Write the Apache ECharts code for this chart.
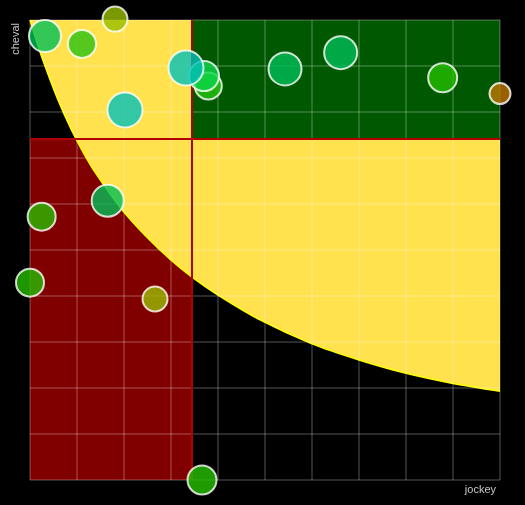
<!DOCTYPE html>
<html>
<head>
<meta charset="utf-8">
<script src="https://cdn.jsdelivr.net/npm/echarts@6/dist/echarts.min.js"></script>
<style>html,body{margin:0;padding:0;background:#000;}#c{width:525px;height:505px;}</style>
</head>
<body>
<div id="c"></div>
<script>
// Threshold curve (frontier)
const curveX = [0, 1.5, 3.19, 5.96, 8.72, 11.28, 14.04, 19.15, 24.47, 29.79, 34.47, 40, 48.94, 60, 70, 80, 90, 100];
const curveY = [100, 95, 90, 82.6, 76.3, 71.3, 66.6, 59.3, 53.2, 48.0, 44.1, 40.2, 34.8, 29.6, 26.1, 23.2, 21, 19.3];

// Thresholds
const thresholdX = 34.5;
const thresholdY = 74.1;

// Bubbles (jockey, cheval, weight)
const pointX = [37.94, 37.02, 33.19, 3.19, 11.06, 18.09, 20.21, 54.26, 66.1, 87.8, 100, 16.53, 2.48, 0, 26.6, 36.6];
const pointY = [85.65, 87.8, 89.57, 96.5, 94.8, 100.2, 80.43, 89.35, 92.9, 87.46, 84.0, 60.72, 57.25, 42.9, 39.35, 0];
const pointW = [27, 30, 35, 32, 28, 25, 35, 33, 33, 29, 21, 32, 28, 28, 25, 29];
const pointColors = [
  'rgb(37,197,12)', 'rgb(12,215,75)', 'rgb(0,192,185)', 'rgb(0,191,87)',
  'rgb(42,194,19)', 'rgb(153,190,0)', 'rgb(0,192,185)', 'rgb(0,190,87)',
  'rgb(0,190,87)', 'rgb(37,190,0)', 'rgb(190,120,0)', 'rgb(0,191,87)',
  'rgb(42,187,0)', 'rgb(37,187,0)', 'rgb(155,187,0)', 'rgb(37,194,0)'
];

const chart = echarts.init(document.getElementById('c'));
const curveData = curveX.map((x, i) => [x, curveY[i]]);
const points = pointX.map((x, i) => ({
  value: [x, pointY[i], pointW[i]],
  itemStyle: { color: pointColors[i] }
}));

const axisCommon = {
  type: 'value', min: 0, max: 100, interval: 10, z: 4,
  axisLine: { show: false }, axisTick: { show: false }, axisLabel: { show: false },
  splitLine: { show: true, lineStyle: { color: 'rgba(255,255,255,0.22)', width: 1.5 } },
  nameTextStyle: { color: '#c8c8c8', fontSize: 11, fontFamily: 'Liberation Sans, Arial, sans-serif' }
};

chart.setOption({
  backgroundColor: '#000',
  animation: false,
  grid: { left: 30, right: 25, top: 20, bottom: 25 },
  xAxis: Object.assign({}, axisCommon, {
    name: 'jockey', nameLocation: 'end', nameGap: -4,
    nameTextStyle: Object.assign({}, axisCommon.nameTextStyle, { align: 'right', verticalAlign: 'top', padding: [4, 0, 0, 0] })
  }),
  yAxis: Object.assign({}, axisCommon, {
    name: 'cheval', nameLocation: 'end', nameGap: -3, nameRotate: 90,
    nameTextStyle: Object.assign({}, axisCommon.nameTextStyle, { align: 'right', verticalAlign: 'bottom', padding: [0, 0, 9, 0] })
  }),
  series: [
    {
      type: 'scatter', data: [], z: 1, silent: true,
      markArea: { silent: true, z: 1, itemStyle: { color: '#800000' },
        data: [[{ coord: [0, 0] }, { coord: [thresholdX, thresholdY] }]] }
    },
    {
      type: 'line', data: curveData, z: 2, smooth: 0.3, symbol: 'none', silent: true,
      lineStyle: { color: '#ffff00', width: 1.5 },
      areaStyle: { origin: 'end', color: '#ffe24d', opacity: 1 }
    },
    {
      type: 'scatter', data: [], z: 3, silent: true,
      markArea: { silent: true, z: 3, itemStyle: { color: '#005800' },
        data: [[{ coord: [thresholdX, thresholdY] }, { coord: [100, 100] }]] }
    },
    {
      type: 'scatter', data: [], z: 5, silent: true,
      markLine: { silent: true, z: 5, symbol: 'none', label: { show: false },
        lineStyle: { color: '#b00000', width: 2, type: 'solid' },
        data: [{ xAxis: thresholdX }, { yAxis: thresholdY }] }
    },
    {
      type: 'scatter', z: 6, clip: false,
      data: points,
      symbolSize: v => v[2],
      itemStyle: { opacity: 0.8, borderColor: '#ffffff', borderWidth: 2 }
    }
  ]
});
</script>
</body>
</html>
